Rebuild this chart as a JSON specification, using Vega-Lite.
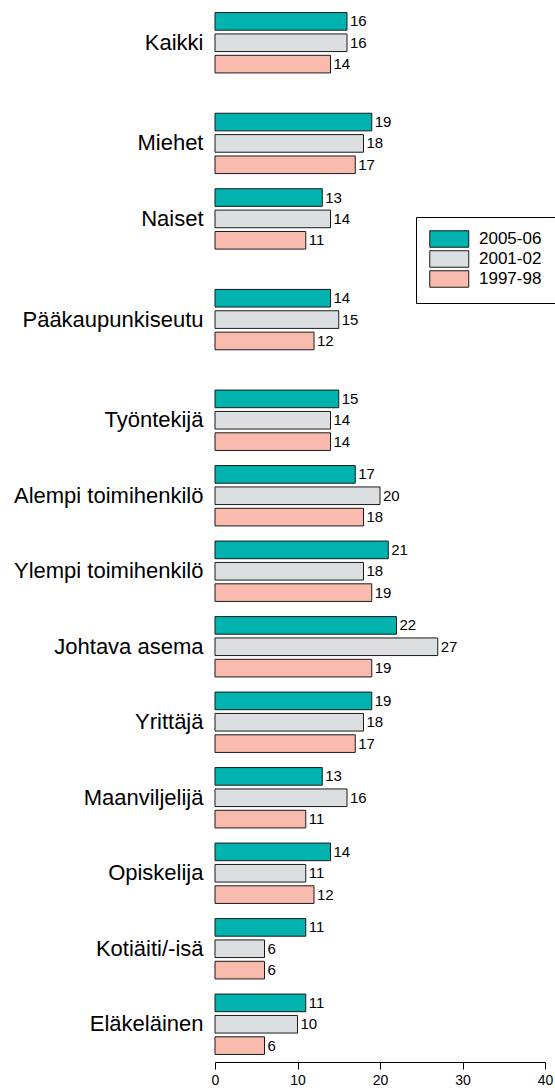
{
  "$schema": "https://vega.github.io/schema/vega-lite/v6.json",
  "autosize": {"type": "none"},
  "width": 330,
  "height": 1057,
  "padding": {"left": 215, "top": 5, "right": 10, "bottom": 30},
  "background": "white",
  "config": {
    "font": "Liberation Sans",
    "view": {"stroke": null},
    "axis": {"labelColor": "#000", "labelFont": "Liberation Sans", "grid": false}
  },
  "data": {
    "values": [
      {"row": "Kaikki|2005-06", "group": "Kaikki", "period": "2005-06", "value": 16},
      {"row": "Kaikki|2001-02", "group": "Kaikki", "period": "2001-02", "value": 16},
      {"row": "Kaikki|1997-98", "group": "Kaikki", "period": "1997-98", "value": 14},
      {"row": "Miehet|2005-06", "group": "Miehet", "period": "2005-06", "value": 19},
      {"row": "Miehet|2001-02", "group": "Miehet", "period": "2001-02", "value": 18},
      {"row": "Miehet|1997-98", "group": "Miehet", "period": "1997-98", "value": 17},
      {"row": "Naiset|2005-06", "group": "Naiset", "period": "2005-06", "value": 13},
      {"row": "Naiset|2001-02", "group": "Naiset", "period": "2001-02", "value": 14},
      {"row": "Naiset|1997-98", "group": "Naiset", "period": "1997-98", "value": 11},
      {"row": "Pääkaupunkiseutu|2005-06", "group": "Pääkaupunkiseutu", "period": "2005-06", "value": 14},
      {"row": "Pääkaupunkiseutu|2001-02", "group": "Pääkaupunkiseutu", "period": "2001-02", "value": 15},
      {"row": "Pääkaupunkiseutu|1997-98", "group": "Pääkaupunkiseutu", "period": "1997-98", "value": 12},
      {"row": "Työntekijä|2005-06", "group": "Työntekijä", "period": "2005-06", "value": 15},
      {"row": "Työntekijä|2001-02", "group": "Työntekijä", "period": "2001-02", "value": 14},
      {"row": "Työntekijä|1997-98", "group": "Työntekijä", "period": "1997-98", "value": 14},
      {"row": "Alempi toimihenkilö|2005-06", "group": "Alempi toimihenkilö", "period": "2005-06", "value": 17},
      {"row": "Alempi toimihenkilö|2001-02", "group": "Alempi toimihenkilö", "period": "2001-02", "value": 20},
      {"row": "Alempi toimihenkilö|1997-98", "group": "Alempi toimihenkilö", "period": "1997-98", "value": 18},
      {"row": "Ylempi toimihenkilö|2005-06", "group": "Ylempi toimihenkilö", "period": "2005-06", "value": 21},
      {"row": "Ylempi toimihenkilö|2001-02", "group": "Ylempi toimihenkilö", "period": "2001-02", "value": 18},
      {"row": "Ylempi toimihenkilö|1997-98", "group": "Ylempi toimihenkilö", "period": "1997-98", "value": 19},
      {"row": "Johtava asema|2005-06", "group": "Johtava asema", "period": "2005-06", "value": 22},
      {"row": "Johtava asema|2001-02", "group": "Johtava asema", "period": "2001-02", "value": 27},
      {"row": "Johtava asema|1997-98", "group": "Johtava asema", "period": "1997-98", "value": 19},
      {"row": "Yrittäjä|2005-06", "group": "Yrittäjä", "period": "2005-06", "value": 19},
      {"row": "Yrittäjä|2001-02", "group": "Yrittäjä", "period": "2001-02", "value": 18},
      {"row": "Yrittäjä|1997-98", "group": "Yrittäjä", "period": "1997-98", "value": 17},
      {"row": "Maanviljelijä|2005-06", "group": "Maanviljelijä", "period": "2005-06", "value": 13},
      {"row": "Maanviljelijä|2001-02", "group": "Maanviljelijä", "period": "2001-02", "value": 16},
      {"row": "Maanviljelijä|1997-98", "group": "Maanviljelijä", "period": "1997-98", "value": 11},
      {"row": "Opiskelija|2005-06", "group": "Opiskelija", "period": "2005-06", "value": 14},
      {"row": "Opiskelija|2001-02", "group": "Opiskelija", "period": "2001-02", "value": 11},
      {"row": "Opiskelija|1997-98", "group": "Opiskelija", "period": "1997-98", "value": 12},
      {"row": "Kotiäiti/-isä|2005-06", "group": "Kotiäiti/-isä", "period": "2005-06", "value": 11},
      {"row": "Kotiäiti/-isä|2001-02", "group": "Kotiäiti/-isä", "period": "2001-02", "value": 6},
      {"row": "Kotiäiti/-isä|1997-98", "group": "Kotiäiti/-isä", "period": "1997-98", "value": 6},
      {"row": "Eläkeläinen|2005-06", "group": "Eläkeläinen", "period": "2005-06", "value": 11},
      {"row": "Eläkeläinen|2001-02", "group": "Eläkeläinen", "period": "2001-02", "value": 10},
      {"row": "Eläkeläinen|1997-98", "group": "Eläkeläinen", "period": "1997-98", "value": 6}
    ]
  },
  "encoding": {
    "y": {
      "field": "row",
      "type": "nominal",
      "sort": null,
      "scale": {
        "domain": [
          "Kaikki|2005-06", "Kaikki|2001-02", "Kaikki|1997-98", "gap1",
          "Miehet|2005-06", "Miehet|2001-02", "Miehet|1997-98",
          "Naiset|2005-06", "Naiset|2001-02", "Naiset|1997-98", "gap2",
          "Pääkaupunkiseutu|2005-06", "Pääkaupunkiseutu|2001-02", "Pääkaupunkiseutu|1997-98", "gap3",
          "Työntekijä|2005-06", "Työntekijä|2001-02", "Työntekijä|1997-98",
          "Alempi toimihenkilö|2005-06", "Alempi toimihenkilö|2001-02", "Alempi toimihenkilö|1997-98",
          "Ylempi toimihenkilö|2005-06", "Ylempi toimihenkilö|2001-02", "Ylempi toimihenkilö|1997-98",
          "Johtava asema|2005-06", "Johtava asema|2001-02", "Johtava asema|1997-98",
          "Yrittäjä|2005-06", "Yrittäjä|2001-02", "Yrittäjä|1997-98",
          "Maanviljelijä|2005-06", "Maanviljelijä|2001-02", "Maanviljelijä|1997-98",
          "Opiskelija|2005-06", "Opiskelija|2001-02", "Opiskelija|1997-98",
          "Kotiäiti/-isä|2005-06", "Kotiäiti/-isä|2001-02", "Kotiäiti/-isä|1997-98",
          "Eläkeläinen|2005-06", "Eläkeläinen|2001-02", "Eläkeläinen|1997-98"
        ],
        "paddingInner": 0.3,
        "paddingOuter": 0.15
      },
      "axis": {
        "title": null,
        "domain": false,
        "ticks": false,
        "labelFontSize": 22,
        "labelPadding": 12,
        "labelLimit": 400,
        "labelOverlap": false,
        "labelBound": false,
        "labelExpr": "indexof(datum.value, '|2001-02') > 0 ? split(datum.value, '|')[0] : ''"
      }
    },
    "x": {
      "field": "value",
      "type": "quantitative",
      "scale": {"domain": [0, 40], "nice": false},
      "axis": {
        "title": null,
        "values": [0, 10, 20, 30, 40],
        "tickSize": 7,
        "tickColor": "#000",
        "domainColor": "#000",
        "labelFontSize": 14,
        "labelPadding": 4,
        "labelFlush": false
      }
    }
  },
  "layer": [
    {
      "transform": [{"filter": "datum.period === '2005-06'"}],
      "layer": [
        {
          "mark": {"type": "bar", "yOffset": 3.8, "stroke": "#1a1a1a", "strokeWidth": 1},
          "encoding": {
            "color": {
              "field": "period",
              "type": "nominal",
              "scale": {"domain": ["2005-06", "2001-02", "1997-98"], "range": ["#00b3ae", "#dcdfe2", "#f9bbad"]},
              "legend": {
                "title": null,
                "orient": "none",
                "legendX": 201,
                "legendY": 212,
                "strokeColor": "#000",
                "padding": 13,
                "symbolType": "M-1,-1H3.73V1H-1Z",
                "symbolSize": 272,
                "symbolStrokeColor": "#1a1a1a",
                "symbolStrokeWidth": 1,
                "symbolOpacity": 1,
                "labelFontSize": 17,
                "labelColor": "#000",
                "labelOffset": 32,
                "rowPadding": -3
              }
            }
          }
        },
        {
          "mark": {"type": "text", "yOffset": 3.8, "align": "left", "baseline": "middle", "dx": 3, "fontSize": 15, "color": "#000"},
          "encoding": {"text": {"field": "value", "type": "quantitative"}}
        }
      ]
    },
    {
      "transform": [{"filter": "datum.period === '2001-02'"}],
      "layer": [
        {
          "mark": {"type": "bar", "stroke": "#1a1a1a", "strokeWidth": 1},
          "encoding": {"color": {"field": "period", "type": "nominal"}}
        },
        {
          "mark": {"type": "text", "align": "left", "baseline": "middle", "dx": 3, "fontSize": 15, "color": "#000"},
          "encoding": {"text": {"field": "value", "type": "quantitative"}}
        }
      ]
    },
    {
      "transform": [{"filter": "datum.period === '1997-98'"}],
      "layer": [
        {
          "mark": {"type": "bar", "yOffset": -3.8, "stroke": "#1a1a1a", "strokeWidth": 1},
          "encoding": {"color": {"field": "period", "type": "nominal"}}
        },
        {
          "mark": {"type": "text", "yOffset": -3.8, "align": "left", "baseline": "middle", "dx": 3, "fontSize": 15, "color": "#000"},
          "encoding": {"text": {"field": "value", "type": "quantitative"}}
        }
      ]
    }
  ]
}
